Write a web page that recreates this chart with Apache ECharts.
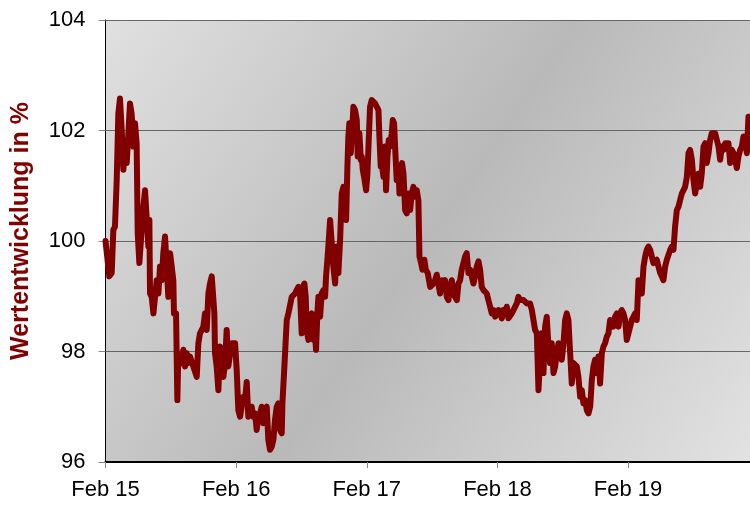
<!DOCTYPE html>
<html>
<head>
<meta charset="utf-8">
<script src="https://cdn.jsdelivr.net/npm/echarts@6/dist/echarts.min.js"></script>
<style>
html,body{margin:0;padding:0;background:#fff;}
#chart{width:750px;height:507px;}
</style>
</head>
<body>
<div id="chart"></div>
<script>
// Months since Feb 2015
const months = [
0.00,0.35,0.57,0.72,0.87,1.03,1.18,1.33,1.49,1.64,1.79,1.95,2.10,2.25,2.40,2.56,2.71,2.86,2.96,3.11,
3.32,3.48,3.63,3.78,3.94,4.03,4.09,4.24,4.40,4.55,4.70,4.86,5.01,5.16,5.31,5.47,5.62,5.77,5.93,6.08,
6.23,6.29,6.48,6.60,6.69,6.85,7.00,7.15,7.31,7.46,7.61,7.76,8.07,8.38,8.53,8.68,8.99,9.14,
9.30,9.45,9.60,9.76,9.91,10.00,10.06,10.21,10.37,10.52,10.67,10.83,10.98,11.13,11.28,11.44,11.59,11.75,11.90,
12.05,12.20,12.36,12.51,12.66,12.82,12.97,13.12,13.28,13.43,13.58,13.74,13.89,14.04,14.20,14.35,14.50,14.65,14.81,14.96,
15.11,15.27,15.42,15.57,15.73,15.88,16.03,16.19,16.25,16.40,16.55,16.65,16.80,16.95,17.11,17.26,17.41,17.56,17.72,17.87,
18.02,18.12,18.27,18.39,18.48,18.64,18.79,18.94,19.10,
19.16,19.34,19.46,19.56,19.71,19.86,20.02,20.17,20.26,20.38,20.47,20.63,20.78,20.93,21.09,21.24,21.39,21.55,21.70,21.85,
22.01,22.10,22.22,22.31,22.40,22.53,22.68,22.77,22.92,23.08,23.17,23.32,23.45,23.54,23.63,23.75,23.94,24.06,24.18,24.30,
24.46,24.61,24.76,24.92,25.07,25.16,25.28,25.37,25.53,25.68,25.77,25.90,26.02,26.14,26.29,26.39,26.51,26.60,26.75,26.91,
27.00,27.12,27.24,27.37,27.52,27.67,27.83,27.98,28.13,28.28,28.44,
28.59,28.74,28.84,28.99,29.11,29.29,29.42,29.60,29.82,29.97,30.12,30.27,30.43,30.58,30.73,30.89,31.04,31.19,31.35,31.50,
31.65,31.81,31.96,32.11,32.27,32.42,32.57,32.72,32.88,33.03,33.18,33.34,33.49,33.64,33.80,33.95,34.10,34.26,34.41,34.56,
34.72,34.87,35.02,35.17,35.33,35.48,35.63,35.79,35.94,36.09,36.25,36.40,36.55,36.71,36.86,37.01,37.17,37.32,37.47,37.63,
37.78,37.93,38.08,38.24,
38.39,38.70,39.00,39.16,39.31,39.46,39.62,39.77,39.92,40.07,40.23,40.38,40.53,40.69,40.84,40.99,41.15,41.30,41.45,41.61,
41.76,41.91,42.07,42.22,42.37,42.52,42.68,42.83,42.98,43.14,43.29,43.44,43.60,43.75,43.90,44.06,44.21,44.36,44.52,44.67,
44.82,44.97,45.13,45.28,45.43,45.59,45.74,45.89,46.05,46.20,46.35,46.51,46.66,46.81,46.97,47.12,47.27,47.42,47.58,47.73,
47.88,48.04,
48.34,48.50,48.65,48.80,48.96,49.11,49.26,49.42,49.57,49.72,49.87,50.03,50.18,50.33,50.49,50.64,50.79,50.95,51.10,51.25,
51.41,51.56,51.71,51.87,52.02,52.17,52.32,52.48,52.63,52.78,52.94,53.09,53.24,53.40,53.55,53.70,53.86,54.01,54.16,54.32,
54.47,54.62,54.77,54.93,55.08,55.23,55.39,55.54,55.69,55.85,56.00,56.15,56.31,56.46,56.61,56.77,56.92,57.07,57.22,57.38,
57.53,57.68,57.84,57.99,58.14,58.30,58.45,58.60,58.76,58.91,59.06,59.22
];
const values = [
100.00,99.36,99.42,100.20,100.26,101.10,102.31,102.58,102.01,101.29,101.71,101.41,101.41,102.49,102.31,101.71,102.13,101.77,100.14,99.60,
100.20,100.62,100.92,100.92,99.90,100.38,99.05,98.99,98.69,98.69,99.29,99.05,99.54,99.29,99.78,100.08,99.54,98.99,99.78,99.54,
99.29,98.69,98.69,97.12,97.97,97.97,97.79,98.03,97.73,97.97,97.79,97.91,97.73,97.54,98.15,98.33,98.45,98.69,
98.39,99.05,99.23,99.36,99.36,98.69,97.97,97.73,97.30,98.09,97.91,97.54,97.79,98.39,97.73,97.73,98.15,98.15,98.15,
97.67,96.94,96.82,97.00,97.18,97.12,97.45,96.82,96.88,97.00,96.82,96.88,96.58,96.82,96.88,97.00,96.70,96.94,97.00,96.40,
96.22,96.28,96.40,96.76,97.00,97.06,96.58,96.52,97.06,97.61,97.61,98.57,98.69,98.69,98.99,98.99,99.05,99.11,99.17,99.05,
98.33,99.17,99.23,98.99,98.39,98.21,98.63,98.69,98.21,
98.57,98.03,98.69,98.99,98.63,99.05,99.11,98.99,99.36,99.66,99.90,100.38,100.38,99.54,99.23,99.90,99.42,100.02,100.86,100.98,
100.98,100.38,101.35,101.89,102.13,101.59,102.07,102.43,102.37,102.19,101.53,101.95,101.47,101.53,101.29,101.16,100.92,101.22,101.83,102.43,
102.55,102.58,102.49,102.49,102.37,101.89,101.35,101.41,101.16,101.71,100.92,101.53,101.83,101.71,101.95,102.19,102.13,101.71,101.10,101.35,
100.86,101.29,101.41,101.22,100.56,100.50,100.86,100.56,100.86,100.98,100.80,
100.92,100.74,99.72,99.60,99.48,99.66,99.48,99.42,99.17,99.17,99.23,99.29,99.39,99.36,99.05,99.29,99.23,99.29,98.99,98.93,
99.17,99.29,99.05,98.99,98.93,99.23,99.29,99.48,99.60,99.72,99.78,99.42,99.48,99.36,99.23,99.36,99.54,99.63,99.48,99.17,
99.11,99.11,99.05,98.93,98.81,98.69,98.75,98.63,98.69,98.75,98.69,98.60,98.75,98.69,98.81,98.60,98.63,98.69,98.75,98.75,
98.87,98.99,98.93,98.93,
98.93,98.87,98.87,98.75,98.57,98.39,98.33,97.30,97.85,98.33,97.61,98.45,98.63,98.09,97.79,98.15,97.61,97.73,97.97,98.15,
98.09,97.85,98.15,98.57,98.69,98.57,97.97,97.42,97.79,97.79,97.73,97.54,97.18,97.30,97.06,97.12,96.94,96.88,97.00,97.48,
97.73,97.85,97.61,97.91,97.42,97.97,98.09,98.15,98.27,98.33,98.57,98.57,98.45,98.63,98.69,98.45,98.69,98.75,98.69,98.57,
98.21,98.33,
98.57,98.63,98.69,98.57,99.29,99.29,99.05,99.54,99.72,99.84,99.90,99.84,99.72,99.60,99.60,99.66,99.54,99.42,99.36,99.29,
99.54,99.66,99.66,99.84,99.90,99.84,100.26,100.56,100.62,100.74,100.86,100.86,100.98,101.16,101.59,101.65,101.47,101.10,100.86,100.86,
101.22,100.98,101.22,101.71,101.77,101.41,101.59,101.83,101.95,101.95,101.95,101.83,101.71,101.47,101.71,101.65,101.77,101.77,101.77,101.41,
101.65,101.59,101.47,101.32,101.53,101.65,101.71,101.89,101.83,101.59,102.25,102.25
];
const xTickMonths = [0, 12, 24, 36, 48];
const xTickLabels = ['Feb 15', 'Feb 16', 'Feb 17', 'Feb 18', 'Feb 19'];
const yTicks = [96, 98, 100, 102, 104];
const yAxisTitle = 'Wertentwicklung in %';

const seriesData = months.map((m, i) => [m, values[i]]);

const chart = echarts.init(document.getElementById('chart'), null, {renderer: 'canvas'});
const font = 'Liberation Sans, Arial, sans-serif';
chart.setOption({
  animation: false,
  grid: {
    left: 105.5, right: 0, top: 20, bottom: 45,
    show: true, borderWidth: 0,
    backgroundColor: new echarts.graphic.LinearGradient(0, 0, 1, 1, [
      {offset: 0, color: '#e0e0e0'},
      {offset: 0.5, color: '#b9b9b9'},
      {offset: 1, color: '#e2e2e2'}
    ])
  },
  xAxis: {
    type: 'value',
    min: 0, max: 59.2, interval: 12,
    axisLine: {show: true, onZero: false, lineStyle: {color: '#000', width: 2}},
    axisTick: {show: true, length: 6, lineStyle: {color: '#888', width: 1}},
    splitLine: {show: false},
    axisLabel: {
      color: '#000', fontSize: 22, fontFamily: font, margin: 17,
      showMaxLabel: false,
      formatter: v => { const i = xTickMonths.indexOf(v); return i >= 0 ? xTickLabels[i] : ''; }
    }
  },
  yAxis: {
    type: 'value',
    min: yTicks[0], max: yTicks[yTicks.length - 1], interval: 2,
    name: yAxisTitle, nameLocation: 'middle', nameRotate: 90, nameGap: 72,
    nameTextStyle: {color: '#800000', fontSize: 25, fontWeight: 'bold', fontFamily: font, padding: [0, 0, 0, 20]},
    axisLine: {show: true, lineStyle: {color: '#000', width: 1}},
    axisTick: {show: true, length: 7, lineStyle: {color: '#888', width: 1}},
    splitLine: {show: true, lineStyle: {color: '#666', width: 1}},
    axisLabel: {color: '#000', fontSize: 22, fontFamily: font, margin: 20}
  },
  series: [{
    type: 'line',
    data: seriesData,
    showSymbol: false,
    lineStyle: {color: '#800000', width: 6, join: 'round', cap: 'round'},
    z: 3
  }]
});
</script>
</body>
</html>
